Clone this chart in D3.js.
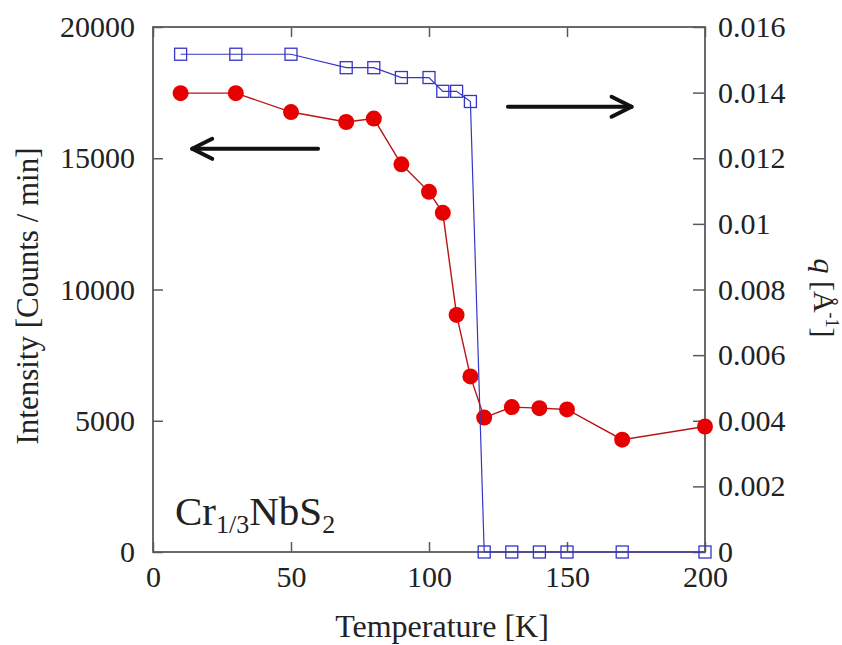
<!DOCTYPE html>
<html>
<head>
<meta charset="utf-8">
<script src="https://cdn.jsdelivr.net/npm/d3@7"></script>
<style>
  body { margin: 0; background: #fff; }
  svg { display: block; }
  text { font-family: "Liberation Serif", "Times New Roman", serif; fill: #222; }
</style>
</head>
<body>
<svg id="chart" width="842" height="645"></svg>
<script>
// ---- data ----
const temps      = [10, 30, 50, 70, 80, 90, 100, 105, 110, 115, 120, 130, 140, 150, 170, 200];
const intensity  = [17480, 17480, 16760, 16380, 16510, 14770, 13720, 12920, 9030, 6690, 5120, 5520, 5480, 5430, 4280, 4780];
const qTemps     = [10, 30, 50, 70, 80, 90, 100, 105, 110, 115, 120, 130, 140, 150, 170, 200];
const qValues    = [0.01517, 0.01517, 0.01517, 0.01476, 0.01476, 0.01446, 0.01446, 0.01404, 0.01404, 0.01373, 0, 0, 0, 0, 0, 0];
const xTicks     = [0, 50, 100, 150, 200];
const xTickLabels = ["0", "50", "100", "150", "200"];
const yTicks     = [0, 5000, 10000, 15000, 20000];
const yTickLabels = ["0", "5000", "10000", "15000", "20000"];
const qTicks     = [0, 0.002, 0.004, 0.006, 0.008, 0.01, 0.012, 0.014, 0.016];
const qTickLabels = ["0", "0.002", "0.004", "0.006", "0.008", "0.01", "0.012", "0.014", "0.016"];
// annotation arrows in data coordinates: [tailT, tipT, value]
const leftArrow  = [59.8, 14.2, 15360];
const rightArrow = [128.6, 173.4, 0.01357];

// ---- layout ----
const W = 842, H = 645;
const m = { left: 153, right: 137, top: 27, bottom: 93 };
const svg = d3.select("#chart");
const x = d3.scaleLinear().domain([0, 200]).range([m.left, W - m.right]);
const y = d3.scaleLinear().domain([0, 20000]).range([H - m.bottom, m.top]);
const yq = d3.scaleLinear().domain([0, 0.016]).range([H - m.bottom, m.top]);

const frameColor = "#5a5a5a";
const fs = 30;

function styleAxis(g) {
  g.select(".domain").remove();
  g.selectAll(".tick line").attr("stroke", frameColor).attr("stroke-width", 1.5);
  g.selectAll(".tick text").attr("font-size", fs).attr("fill", "#222")
    .style("font-family", '"Liberation Serif", serif');
}

// bottom axis
svg.append("g").attr("transform", `translate(0,${H - m.bottom})`)
  .call(d3.axisBottom(x).tickValues(xTicks).tickFormat((d, i) => xTickLabels[i])
    .tickSize(-10).tickSizeOuter(0).tickPadding(14))
  .call(styleAxis);
// top axis (ticks only)
svg.append("g").attr("transform", `translate(0,${m.top})`)
  .call(d3.axisTop(x).tickValues(xTicks).tickFormat("").tickSize(-10).tickSizeOuter(0))
  .call(styleAxis);
// left axis
svg.append("g").attr("transform", `translate(${m.left},0)`)
  .call(d3.axisLeft(y).tickValues(yTicks).tickFormat((d, i) => yTickLabels[i])
    .tickSize(-10).tickSizeOuter(0).tickPadding(18))
  .call(styleAxis);
// right axis
svg.append("g").attr("transform", `translate(${W - m.right},0)`)
  .call(d3.axisRight(yq).tickValues(qTicks).tickFormat((d, i) => qTickLabels[i])
    .tickSize(-12).tickSizeOuter(0).tickPadding(13))
  .call(styleAxis);

// frame
svg.append("rect")
  .attr("x", m.left).attr("y", m.top)
  .attr("width", W - m.left - m.right).attr("height", H - m.top - m.bottom)
  .attr("fill", "none").attr("stroke", frameColor).attr("stroke-width", 1.8);

// intensity series (red)
const redPts = temps.map((t, i) => [t, intensity[i]]);
svg.append("path").datum(redPts)
  .attr("fill", "none").attr("stroke", "#b81414").attr("stroke-width", 1.4)
  .attr("d", d3.line().x(d => x(d[0])).y(d => y(d[1])));
svg.append("g").selectAll("circle").data(redPts).join("circle")
  .attr("cx", d => x(d[0])).attr("cy", d => y(d[1])).attr("r", 8)
  .attr("fill", "#e60000");

// q series (blue)
const bluePts = qTemps.map((t, i) => [t, qValues[i]]);
svg.append("path").datum(bluePts)
  .attr("fill", "none").attr("stroke", "#3535c8").attr("stroke-width", 1.2)
  .attr("d", d3.line().x(d => x(d[0])).y(d => yq(d[1])));
const sq = 12;
svg.append("g").selectAll("rect").data(bluePts).join("rect")
  .attr("x", d => x(d[0]) - sq / 2).attr("y", d => yq(d[1]) - sq / 2)
  .attr("width", sq).attr("height", sq)
  .attr("fill", "none").attr("stroke", "#3535c8").attr("stroke-width", 1.3);

// arrows
function arrow(x1, y1, x2, y2) {
  const dir = Math.sign(x2 - x1);
  const g = svg.append("g").attr("stroke", "#111").attr("stroke-width", 4)
    .attr("fill", "none").attr("stroke-linecap", "round").attr("stroke-linejoin", "round");
  g.append("line").attr("x1", x1).attr("y1", y1).attr("x2", x2).attr("y2", y2);
  g.append("path").attr("d",
    `M${x2 - dir * 20},${y2 - 10} L${x2},${y2} L${x2 - dir * 20},${y2 + 10}`);
}
arrow(x(leftArrow[0]), y(leftArrow[2]), x(leftArrow[1]), y(leftArrow[2]));
arrow(x(rightArrow[0]), yq(rightArrow[2]), x(rightArrow[1]), yq(rightArrow[2]));

// axis titles
svg.append("text").attr("x", 442).attr("y", 637)
  .attr("text-anchor", "middle").attr("font-size", 32).text("Temperature [K]");

svg.append("text").attr("transform", "translate(38,296) rotate(-90)")
  .attr("text-anchor", "middle").attr("font-size", 31).text("Intensity [Counts / min]");

const qt = svg.append("text").attr("transform", "translate(814,298) rotate(90)")
  .attr("text-anchor", "middle").attr("font-size", 30);
qt.append("tspan").attr("font-style", "italic").text("q");
qt.append("tspan").text(" [Å");
qt.append("tspan").attr("font-size", 18).attr("dy", -12).text("-1");
qt.append("tspan").attr("dy", 12).text("]");

// compound label
const cl = svg.append("text").attr("x", 175).attr("y", 525).attr("font-size", 41);
cl.append("tspan").text("Cr");
cl.append("tspan").attr("font-size", 26).attr("dy", 8).text("1/3");
cl.append("tspan").attr("dy", -8).text("NbS");
cl.append("tspan").attr("font-size", 26).attr("dy", 8).text("2");
</script>
</body>
</html>
